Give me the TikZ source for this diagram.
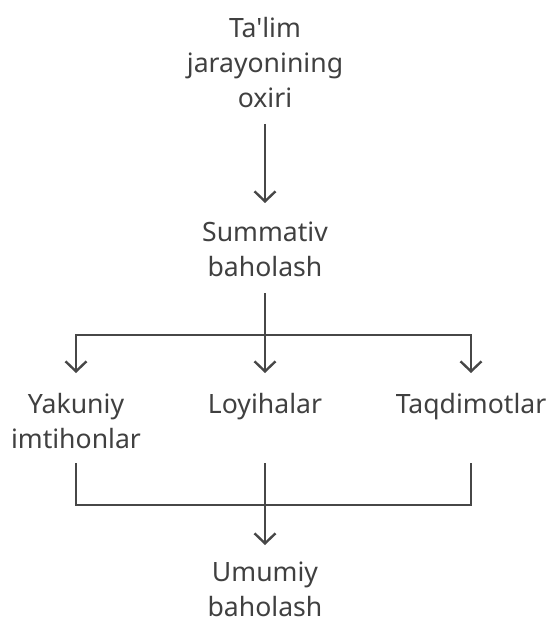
\documentclass[tikz,border=0pt]{standalone}
\usepackage{fontspec}
\setmainfont{Noto Sans}[Ligatures=TeXOff]
\usetikzlibrary{arrows.meta}
\definecolor{txt}{HTML}{404040}
\definecolor{ln}{HTML}{474747}
\begin{document}
\begin{tikzpicture}[x=1pt,y=-1pt,
  lbl/.style={anchor=north,inner sep=0pt,align=center,text=txt,
    font=\fontsize{26.6}{35}\selectfont},
  conn/.style={draw=ln,line width=2.4pt},
  arr/.style={conn,-{Straight Barb[length=10pt,width=21pt]}}]
\useasboundingbox (0,0) rectangle (553,620);
\node[lbl] (t) at (265,17) {Ta'lim\\jarayonining\\oxiri};
\node[lbl] (s) at (265,222) {Summativ\\baholash};
\node[lbl] (y) at (76,393) {Yakuniy\\imtihonlar};
\node[lbl] (l) at (265,393) {Loyihalar};
\node[lbl] (q) at (471,393) {Taqdimotlar};
\node[lbl] (u) at (265,562) {Umumiy\\baholash};
\coordinate (b1) at (265,335);
\coordinate (b2) at (265,505);
\draw[arr] ([yshift=-16pt]t.south) -- ([yshift=19pt]s.north);
\draw[conn] ([yshift=-16pt]s.south) -- (b1);
\draw[arr] (b1) -| ([yshift=20pt]y.north);
\draw[arr] (b1) -- ([yshift=20pt]l.north);
\draw[arr] (b1) -| ([yshift=20pt]q.north);
\draw[conn] ([yshift=-70pt]y.north) |- (b2);
\draw[conn] ([yshift=-70pt]l.north) -- (b2);
\draw[conn] ([yshift=-70pt]q.north) |- (b2);
\draw[arr] (b2) -- ([yshift=17pt]u.north);
\end{tikzpicture}
\end{document}
